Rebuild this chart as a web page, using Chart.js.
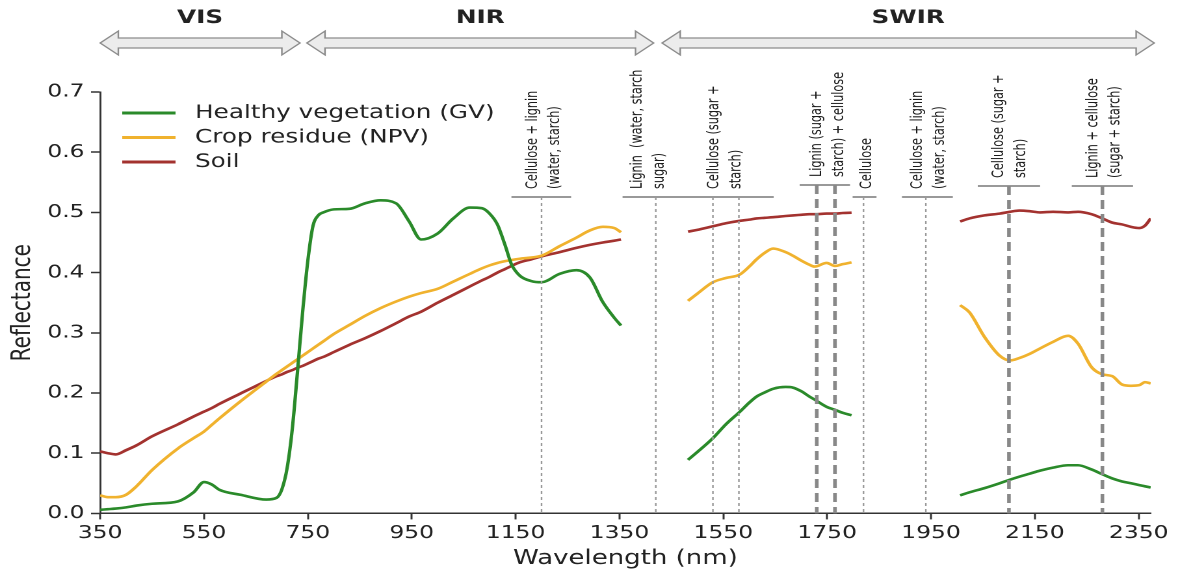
<!DOCTYPE html>
<html>
<head>
<meta charset="utf-8">
<script src="https://cdn.jsdelivr.net/npm/chart.js@4.4.1/dist/chart.umd.min.js"></script>
<style>
  html, body { margin: 0; padding: 0; background: #fff; overflow: hidden; }
  /* the source figure is stretched sideways, so we draw narrow and stretch too */
  #wrap { width: 906px; height: 574px; transform: scaleX(1.30022); transform-origin: 0 0; }
</style>
</head>
<body>
<div id="wrap"><canvas id="chart" width="906" height="574"></canvas></div>
<script>
// wavelengths (nm); null rows break the lines at the water bands
const wavelengths = [
  350, 365, 380, 400, 420, 450, 500, 530, 550, 565, 580, 620, 670, 690, 700, 710, 720, 730, 740, 750,
  760, 770, 780, 800, 830, 860, 890, 920, 945, 968, 1000, 1030, 1062, 1085, 1100, 1115, 1130, 1142,
  1158, 1180, 1200, 1235, 1267, 1293, 1318, 1340, 1353,
  1420,
  1482, 1500, 1530, 1555, 1582, 1600, 1614, 1630, 1646, 1670, 1684, 1700, 1716, 1726, 1749, 1765, 1780, 1797,
  1900,
  2006, 2024, 2053, 2082, 2102, 2120, 2140, 2160, 2185, 2214, 2233, 2259, 2280, 2299, 2318, 2335, 2351, 2362, 2373
];

const healthyVeg = [
  0.006, 0.007, 0.008, 0.010, 0.013, 0.016, 0.020, 0.035, 0.052, 0.048, 0.039, 0.031, 0.023, 0.026, 0.040, 0.075, 0.140, 0.235, 0.335, 0.420,
  0.478, 0.495, 0.500, 0.505, 0.506, 0.515, 0.520, 0.515, 0.485, 0.455, 0.465, 0.490, 0.508, 0.507, 0.498, 0.480, 0.445, 0.414,
  0.395, 0.386, 0.384, 0.398, 0.404, 0.392, 0.351, 0.325, 0.312,
  null,
  0.089, 0.102, 0.125, 0.148, 0.169, 0.184, 0.194, 0.201, 0.207, 0.210, 0.209, 0.203, 0.194, 0.189, 0.177, 0.172, 0.167, 0.163,
  null,
  0.030, 0.035, 0.042, 0.050, 0.056, 0.061, 0.066, 0.071, 0.076, 0.080, 0.080, 0.073, 0.065, 0.058, 0.053, 0.050, 0.047, 0.045, 0.043
];

const cropResidue = [
  0.030, 0.027, 0.027, 0.031, 0.045, 0.072, 0.108, 0.125, 0.136, 0.147, 0.158, 0.186, 0.219, 0.232, 0.238, 0.244, 0.250, 0.256, 0.262, 0.268,
  0.274, 0.280, 0.286, 0.298, 0.313, 0.328, 0.341, 0.352, 0.360, 0.366, 0.373, 0.385, 0.398, 0.407, 0.412, 0.416, 0.419, 0.421,
  0.423, 0.425, 0.428, 0.444, 0.458, 0.470, 0.476, 0.474, 0.467,
  null,
  0.353, 0.365, 0.384, 0.391, 0.397, 0.410, 0.422, 0.433, 0.440, 0.434, 0.428, 0.420, 0.413, 0.410, 0.416, 0.411, 0.414, 0.417,
  null,
  0.346, 0.334, 0.293, 0.262, 0.254, 0.258, 0.265, 0.274, 0.285, 0.295, 0.282, 0.243, 0.231, 0.228, 0.214, 0.212, 0.213, 0.218, 0.216
];

const soil = [
  0.103, 0.100, 0.098, 0.105, 0.113, 0.128, 0.148, 0.161, 0.169, 0.175, 0.182, 0.199, 0.220, 0.228, 0.231, 0.235, 0.238, 0.242, 0.245, 0.249,
  0.253, 0.257, 0.260, 0.268, 0.280, 0.291, 0.303, 0.316, 0.327, 0.335, 0.350, 0.363, 0.377, 0.387, 0.393, 0.400, 0.406, 0.411,
  0.417, 0.422, 0.427, 0.434, 0.441, 0.446, 0.450, 0.453, 0.455,
  null,
  0.468, 0.471, 0.477, 0.482, 0.486, 0.488, 0.490, 0.491, 0.492, 0.494, 0.495, 0.496, 0.497, 0.497, 0.498, 0.498, 0.499, 0.4995,
  null,
  0.485, 0.490, 0.495, 0.498, 0.501, 0.503, 0.502, 0.500, 0.501, 0.500, 0.501, 0.497, 0.490, 0.483, 0.480, 0.476, 0.474, 0.478, 0.490
];

const seriesNames = ["Healthy vegetation (GV)", "Crop residue (NPV)", "Soil"];
const xTicks = [350, 550, 750, 950, 1150, 1350, 1550, 1750, 1950, 2150, 2350];

// spectral regions shown as arrows above the plot
const regionNames = ["VIS", "NIR", "SWIR"];
const regionStart = [350, 748, 1432];
const regionEnd = [735, 1416, 2380];

// absorption feature labels
const noteTexts = [
  ["Cellulose + lignin", "(water, starch)"],
  ["Lignin  (water, starch", "sugar)"],
  ["Cellulose (sugar +", "starch)"],
  ["Lignin (sugar +", "starch) + cellulose"],
  ["Cellulose"],
  ["Cellulose + lignin", "(water, starch)"],
  ["Cellulose (sugar +", "starch)"],
  ["Lignin + cellulose", "(sugar + starch)"]
];
const noteAt = [1204, 1406, 1554, 1752, 1826, 1945, 2102, 2284];
const noteBracket = [0, 1, 1, 2, 3, 4, 5, 6];
const bracketFrom = [1142, 1356, 1697, 1799, 1894, 2040, 2221];
const bracketTo = [1257, 1647, 1794, 1845, 1992, 2160, 2339];
const bandCentres = [1200, 1420, 1530, 1580, 1730, 1765, 1820, 1940, 2100, 2280];
const bandBracket = [0, 1, 1, 1, 2, 2, 3, 4, 5, 6];
const bandStrong = [false, false, false, false, true, true, false, false, true, true];

const FONT = "'DejaVu Sans', sans-serif";
const NOTE_FONT = "12.5px 'DejaVu Sans Condensed', 'Liberation Sans Narrow', 'DejaVu Sans', sans-serif";
const bracketY = [197, 197, 185, 197, 197, 186, 186];

function toPoints(ys) {
  return wavelengths.map((w, i) => ({ x: w, y: ys[i] }));
}

function drawArrow(ctx, x1, x2, cy) {
  const hl = 14, hh = 12, sh = 5;
  ctx.beginPath();
  ctx.moveTo(x1, cy);
  ctx.lineTo(x1 + hl, cy - hh);
  ctx.lineTo(x1 + hl, cy - sh);
  ctx.lineTo(x2 - hl, cy - sh);
  ctx.lineTo(x2 - hl, cy - hh);
  ctx.lineTo(x2, cy);
  ctx.lineTo(x2 - hl, cy + hh);
  ctx.lineTo(x2 - hl, cy + sh);
  ctx.lineTo(x1 + hl, cy + sh);
  ctx.lineTo(x1 + hl, cy + hh);
  ctx.closePath();
  ctx.fillStyle = "#ececec";
  ctx.fill();
  ctx.strokeStyle = "#8c8c8c";
  ctx.lineWidth = 1.2;
  ctx.stroke();
}

const decorations = {
  id: "decorations",
  afterDatasetsDraw(chart) {
    const ctx = chart.ctx;
    const xs = chart.scales.x;
    const bottom = chart.chartArea.bottom;
    ctx.save();

    // region arrows + names
    regionNames.forEach((name, i) => {
      const x1 = xs.getPixelForValue(regionStart[i]);
      const x2 = xs.getPixelForValue(regionEnd[i]);
      drawArrow(ctx, x1, x2, 43);
      ctx.fillStyle = "#222";
      ctx.font = "bold 19px " + FONT;
      ctx.textAlign = "center";
      ctx.textBaseline = "middle";
      ctx.fillText(name, (x1 + x2) / 2, 18);
    });

    // brackets
    ctx.setLineDash([]);
    ctx.strokeStyle = "#999";
    ctx.lineWidth = 2;
    bracketFrom.forEach((f, i) => {
      ctx.beginPath();
      ctx.moveTo(xs.getPixelForValue(f), bracketY[i]);
      ctx.lineTo(xs.getPixelForValue(bracketTo[i]), bracketY[i]);
      ctx.stroke();
    });

    // band lines
    bandCentres.forEach((w, i) => {
      const x = xs.getPixelForValue(w);
      if (bandStrong[i]) {
        ctx.strokeStyle = "#888";
        ctx.lineWidth = 2.8;
        ctx.setLineDash([9, 5]);
      } else {
        ctx.strokeStyle = "#999";
        ctx.lineWidth = 1.2;
        ctx.setLineDash([3, 3]);
      }
      ctx.beginPath();
      ctx.moveTo(x, bracketY[bandBracket[i]]);
      ctx.lineTo(x, bottom);
      ctx.stroke();
    });
    ctx.setLineDash([]);

    // rotated labels
    ctx.fillStyle = "#1a1a1a";
    ctx.font = NOTE_FONT;
    ctx.textAlign = "left";
    ctx.textBaseline = "middle";
    noteTexts.forEach((lines, i) => {
      const cx = xs.getPixelForValue(noteAt[i]);
      const y0 = bracketY[noteBracket[i]] - 8;
      const gap = 17;
      lines.forEach((t, j) => {
        const x = cx + (j - (lines.length - 1) / 2) * gap;
        ctx.save();
        ctx.translate(x, y0);
        ctx.rotate(-Math.PI / 2);
        ctx.fillText(t, 0, 0);
        ctx.restore();
      });
    });

    // legend
    ctx.font = "19px " + FONT;
    ctx.textAlign = "left";
    ctx.textBaseline = "middle";
    chart.data.datasets.forEach((ds, i) => {
      const y = 113 + i * 24.5;
      ctx.strokeStyle = ds.borderColor;
      ctx.lineWidth = 3;
      ctx.beginPath();
      ctx.moveTo(94, y);
      ctx.lineTo(135, y);
      ctx.stroke();
      ctx.fillStyle = "#222";
      ctx.fillText(ds.label, 150, y);
    });

    ctx.restore();
  }
};

const colors = ["#2a8a2a", "#f0b22e", "#a3322f"];
const series = [healthyVeg, cropResidue, soil];

new Chart(document.getElementById("chart"), {
  type: "line",
  data: {
    datasets: series.map((s, i) => ({
      label: seriesNames[i],
      data: toPoints(s),
      borderColor: colors[i],
      borderWidth: 2.6,
      pointRadius: 0,
      cubicInterpolationMode: "monotone",
      spanGaps: false,
      fill: false
    }))
  },
  options: {
    responsive: false,
    devicePixelRatio: 2,
    animation: false,
    layout: { padding: { top: 92, right: 21, bottom: 0, left: 0 } },
    plugins: { legend: { display: false }, tooltip: { enabled: false } },
    scales: {
      x: {
        type: "linear",
        min: 350,
        max: 2373,
        afterBuildTicks: (s) => { s.ticks = xTicks.map((v) => ({ value: v })); },
        ticks: { font: { family: FONT, size: 18 }, color: "#222", padding: 3, maxRotation: 0, autoSkip: false, callback: (v) => String(v) },
        grid: { drawOnChartArea: false, tickLength: 6, tickColor: "#333", tickWidth: 1.5 },
        border: { color: "#333", width: 1.5 },
        title: { display: true, text: "Wavelength (nm)", font: { family: FONT, size: 20 }, color: "#222", padding: { top: 0, bottom: 3 } }
      },
      y: {
        min: 0,
        max: 0.7,
        afterFit: (s) => { s.width = 77; },
        ticks: { stepSize: 0.1, font: { family: FONT, size: 18 }, color: "#222", padding: 5, callback: (v) => v.toFixed(1) },
        grid: { drawOnChartArea: false, tickLength: 7, tickColor: "#333", tickWidth: 1.5 },
        border: { color: "#333", width: 1.5 },
        title: { display: true, text: "Reflectance", font: { family: FONT, size: 20 }, color: "#222", padding: { top: 6, bottom: 2 } }
      }
    }
  },
  plugins: [decorations]
});
</script>
</body>
</html>
